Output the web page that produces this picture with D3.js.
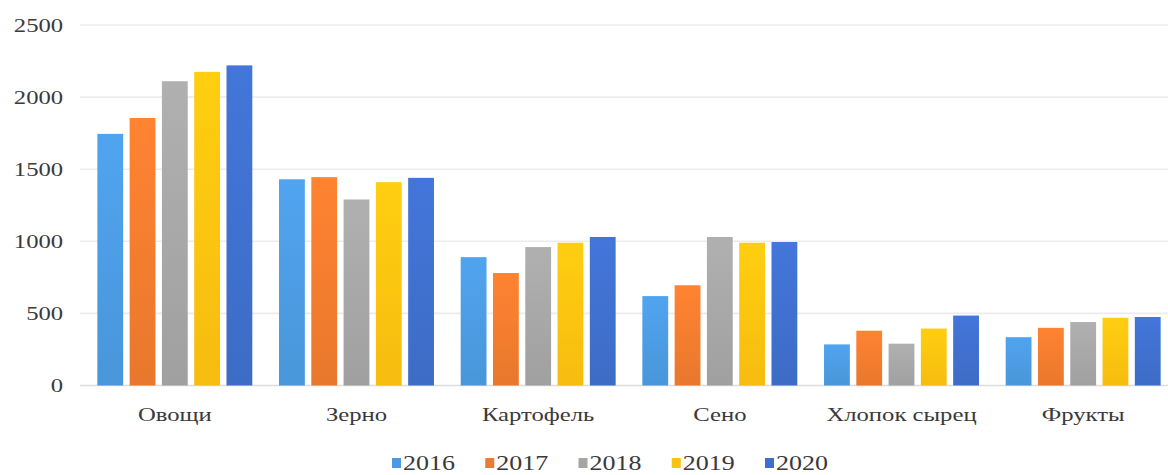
<!DOCTYPE html>
<html>
<head>
<meta charset="utf-8">
<script src="https://cdn.jsdelivr.net/npm/d3@7"></script>
<style>
  html, body { margin: 0; padding: 0; background: #ffffff; }
  svg { display: block; }
  text { font-family: "Liberation Serif", "Times New Roman", serif; fill: #3a3a3a; }
</style>
</head>
<body>
<svg id="chart" width="1168" height="475"></svg>
<script>
// Production by crop, 2016–2020
const categories = ["Овощи", "Зерно", "Картофель", "Сено", "Хлопок сырец", "Фрукты"];
const years = ["2016", "2017", "2018", "2019", "2020"];
const values2016 = [1745, 1430, 890, 620, 285, 335];
const values2017 = [1855, 1445, 780, 695, 380, 400];
const values2018 = [2110, 1290, 960, 1030, 290, 440];
const values2019 = [2175, 1410, 990, 990, 395, 470];
const values2020 = [2220, 1440, 1030, 995, 485, 475];
const yTicks = [0, 500, 1000, 1500, 2000, 2500];
const colors = ["#4b9ae0", "#ef7b2e", "#a5a5a5", "#fdc10f", "#3f6fcc"];

const seriesValues = [values2016, values2017, values2018, values2019, values2020];

const svg = d3.select("#chart");
const plot = { left: 84, right: 1174, top: 25, bottom: 385.5 };
const textStretch = 1.3;

const x0 = d3.scaleBand().domain(categories)
  .range([plot.left, plot.right]).paddingInner(0.147).paddingOuter(0.0735);
const x1 = d3.scaleBand().domain(years)
  .range([0, x0.bandwidth()]).paddingInner(0.2).paddingOuter(0);
const y = d3.scaleLinear().domain([0, 2500]).range([plot.bottom, plot.top]);

// Gradient fills for bars
const defs = svg.append("defs");
years.forEach((yr, i) => {
  const c = d3.color(colors[i]);
  const g = defs.append("linearGradient").attr("id", "grad" + yr)
    .attr("x1", 0).attr("y1", 0).attr("x2", 0).attr("y2", 1);
  g.append("stop").attr("offset", "0%").attr("stop-color", c.brighter(0.18));
  g.append("stop").attr("offset", "100%").attr("stop-color", c.darker(0.08));
});

// Horizontal gridlines
svg.append("g")
  .selectAll("line")
  .data(yTicks)
  .join("line")
  .attr("x1", 80).attr("x2", 1168)
  .attr("y1", d => y(d)).attr("y2", d => y(d))
  .attr("stroke", d => d === 0 ? "#dcdcdc" : "#ececec")
  .attr("stroke-width", 1.6);

// Y axis labels
const yAxis = svg.append("g")
  .attr("transform", `translate(${plot.left},0)`)
  .call(d3.axisLeft(y).tickValues(yTicks).tickSize(0).tickPadding(16).tickFormat(d3.format("d")));
yAxis.select(".domain").remove();
yAxis.selectAll("text")
  .attr("font-size", 19)
  .attr("font-family", "Liberation Serif")
  .style("fill", "#3a3a3a")
  .attr("transform", `scale(${textStretch},1)`);

// Bars
const groups = svg.append("g")
  .selectAll("g")
  .data(categories)
  .join("g")
  .attr("transform", d => `translate(${x0(d)},0)`);

groups.selectAll("rect")
  .data((cat, ci) => years.map((yr, si) => ({ yr, si, v: seriesValues[si][ci] })))
  .join("rect")
  .attr("x", d => x1(d.yr))
  .attr("width", x1.bandwidth())
  .attr("y", d => y(d.v))
  .attr("height", d => y(0) - y(d.v))
  .attr("fill", d => `url(#grad${d.yr})`);

// X axis labels
const xAxis = svg.append("g")
  .attr("transform", `translate(0,${plot.bottom})`)
  .call(d3.axisBottom(x0).tickSize(0).tickPadding(22));
xAxis.select(".domain").remove();
xAxis.selectAll("text")
  .attr("font-size", 19)
  .attr("font-family", "Liberation Serif")
  .style("fill", "#3a3a3a")
  .attr("transform", `scale(${textStretch},1)`);

// Legend
const legendX = d3.scalePoint().domain(years).range([392, 765]);
const legend = svg.append("g")
  .selectAll("g")
  .data(years)
  .join("g")
  .attr("transform", d => `translate(${legendX(d)},458)`);
legend.append("rect")
  .attr("width", 9).attr("height", 10)
  .attr("fill", (d, i) => colors[i]);
legend.append("text")
  .attr("transform", `translate(11,12) scale(${textStretch},1)`)
  .attr("font-size", 20)
  .text(d => d);
</script>
</body>
</html>
